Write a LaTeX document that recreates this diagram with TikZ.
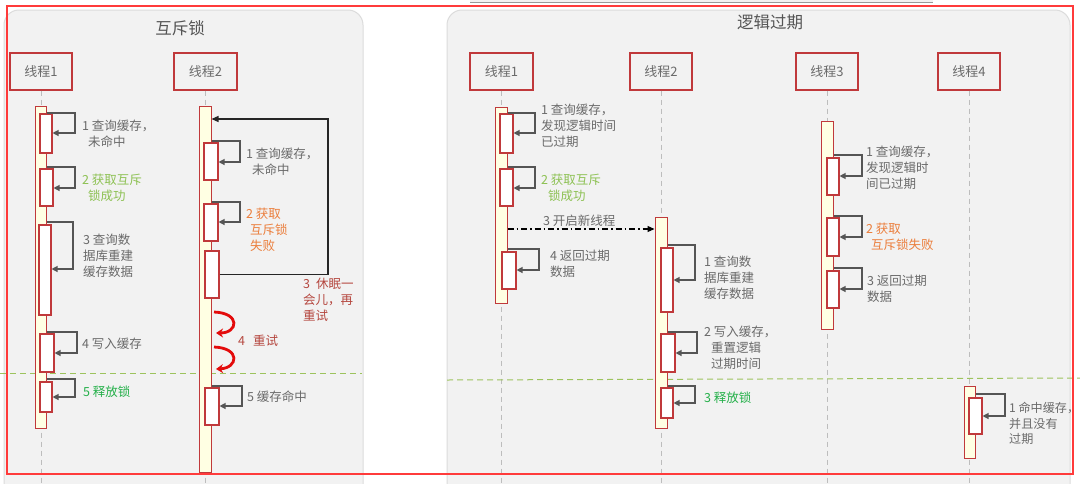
\documentclass[tikz,border=0pt]{standalone}
\usepackage{fontspec}
\setmainfont{Noto Sans CJK SC}
\usetikzlibrary{fit,arrows.meta}
\definecolor{panel}{HTML}{F2F2F2}
\definecolor{panelline}{HTML}{DCDCDC}
\definecolor{boxred}{HTML}{C0393B}
\definecolor{outerred}{HTML}{FF3B3B}
\definecolor{actfill}{HTML}{FFFFE3}
\definecolor{txtgray}{HTML}{6A6A6A}
\definecolor{titlegray}{HTML}{555555}
\definecolor{lgreen}{HTML}{8DC153}
\definecolor{dgreen}{HTML}{25B04A}
\definecolor{orng}{HTML}{EB7E3C}
\definecolor{dred}{HTML}{B5473F}
\definecolor{loopgray}{HTML}{555555}
\definecolor{dashgreen}{HTML}{9DC35E}
\definecolor{lifegray}{HTML}{BDBDBD}
\definecolor{arrowred}{HTML}{E30B0B}
\newcommand\sloop[5]{\draw[loopl] (#1.east |- 0,#3) -- (#4,#3) -- (#4,#5) -- (#2.east |- 0,#5);}
\begin{document}
\begin{tikzpicture}[x=1pt,y=-1pt,
  every node/.style={inner sep=0pt},
  thread/.style={draw=boxred, line width=1.3pt, minimum height=37pt, font=\fontsize{13}{15}\selectfont, text=txtgray},
  act/.style={draw=boxred, fill=actfill, line width=1pt, inner sep=0pt},
  ibox/.style={draw=boxred, fill=white, line width=1.1pt, inner sep=0pt},
  loopl/.style={draw=loopgray, line width=1.2pt, -{Triangle[length=6pt,width=6pt]}},
  lifeline/.style={draw=lifegray, line width=1pt, dash pattern=on 5pt off 4pt},
  sepline/.style={draw=dashgreen, line width=1pt, dash pattern=on 6pt off 4pt},
  lbl/.style={anchor=north west, align=left, font=\fontsize{12.5}{15.7}\selectfont, text=txtgray},
  ttl/.style={font=\fontsize{16.5}{18}\selectfont, text=titlegray},
  redarrow/.style={draw=arrowred, line width=2.8pt, -{Stealth[length=7pt,width=9pt]}},
  bigloop/.style={draw=black!85, line width=1.2pt, -{Triangle[length=7pt,width=6pt]}},
  spawn/.style={draw=black, line width=1.2pt, dash pattern=on 6pt off 3pt on 1.5pt off 3pt, -{Triangle[length=7pt,width=6pt]}}
]
\useasboundingbox (0,0) rectangle (1080,483);
\fill[white] (0,0) rectangle (1080,483);
% top bar
\fill[black!40] (470,0) rectangle (933,3.2);
\fill[panel] (470,0) rectangle (932.5,2);
% panels
\filldraw[fill=panel, draw=panelline, line width=1pt, rounded corners=15pt] (4,10) rectangle (363,500);
\filldraw[fill=panel, draw=panelline, line width=1pt, rounded corners=15pt] (447,10) rectangle (1070,500);

% titles
\node[ttl] (tA) at (180,28) {互斥锁};
\node[ttl] (tB) at (770,22) {逻辑过期};

% thread headers
\node[thread, minimum width=62pt] (T1) at (41,71.5) {线程1};
\node[thread, minimum width=63pt] (T2) at (205.5,71.5) {线程2};
\node[thread, minimum width=63pt] (RT1) at (501.5,71.5) {线程1};
\node[thread, minimum width=62pt] (RT2) at (661,71.5) {线程2};
\node[thread, minimum width=62pt] (RT3) at (827,71.5) {线程3};
\node[thread, minimum width=62pt] (RT4) at (969,71.5) {线程4};

% lifelines
\coordinate (e1) at (41,483);
\coordinate (e2) at (205.5,483);
\coordinate (e3) at (501.5,483);
\coordinate (e4) at (661,483);
\coordinate (e5) at (827,483);
\coordinate (e6) at (969,483);
\draw[lifeline] (T1.south) -- (e1);
\draw[lifeline] (T2.south) -- (e2);
\draw[lifeline] (RT1.south) -- (e3);
\draw[lifeline] (RT2.south) -- (e4);
\draw[lifeline] (RT3.south) -- (e5);
\draw[lifeline] (RT4.south) -- (e6);

% separators
\draw[sepline] (0,373) -- (362,373);
\draw[sepline] (447,380) -- (1080,378);

% ---------- left: thread 1
\node[act, fit={(35,106)(46,428)}] (L1a) {};
\node[ibox, fit={(40,114)(52,153)}] (L1b1) {};
\node[ibox, fit={(40,169)(53,206)}] (L1b2) {};
\node[ibox, fit={(39,225)(51,315)}] (L1b3) {};
\node[ibox, fit={(40,334)(54,372)}] (L1b4) {};
\node[ibox, fit={(40,382)(52,412)}] (L1b5) {};
\sloop{L1a}{L1b1}{113}{75}{133}
\sloop{L1a}{L1b2}{167}{75}{188}
\sloop{L1a}{L1b3}{222}{73}{269}
\sloop{L1a}{L1b4}{332}{77}{353}
\sloop{L1a}{L1b5}{379}{75}{397}
\node[lbl] (l11) at (82,120) {1 查询缓存，\\\hspace*{6pt}未命中};
\node[lbl, text=lgreen] (l12) at (82,174) {2 获取互斥\\\hspace*{6pt}锁成功};
\node[lbl] (l13) at (83,234) {3 查询数\\据库重建\\缓存数据};
\node[lbl] (l14) at (82,338) {4 写入缓存};
\node[lbl, text=dgreen] (l15) at (83,386) {5 释放锁};

% ---------- left: thread 2
\node[act, fit={(199,106)(211,472)}] (L2a) {};
\node[ibox, fit={(204,143)(218,180)}] (L2b1) {};
\node[ibox, fit={(204,204)(218,241)}] (L2b2) {};
\node[ibox, fit={(205,251)(219,298)}] (L2b3) {};
\node[ibox, fit={(205,388)(219,425)}] (L2b5) {};
\sloop{L2a}{L2b1}{141}{240}{162}
\sloop{L2a}{L2b2}{202}{240}{222}
\sloop{L2a}{L2b5}{386}{242}{406}
\coordinate (bl) at (328,119);
\draw[bigloop] (L2b3.east) -| (bl) -- (L2a.east |- bl);
\draw[redarrow] (214,312) .. controls (241,313) and (238,333) .. (216,333);
\draw[redarrow] (214,347) .. controls (241,348) and (238,368) .. (216,369);
\node[lbl] (l21) at (246,148) {1 查询缓存，\\\hspace*{6pt}未命中};
\node[lbl, text=orng] (l22) at (246,208) {2 获取\\\hspace*{4pt}互斥锁\\\hspace*{4pt}失败};
\node[lbl, text=dred] (l23) at (303,278) {3\hspace{6pt}休眠一\\会儿，再\\重试};
\node[lbl, text=dred] (l24) at (238,335) {4\hspace{8pt}重试};
\node[lbl] (l25) at (247,391) {5 缓存命中};

% ---------- right: thread 1
\node[act, fit={(495,107)(507,303)}] (R1a) {};
\node[ibox, fit={(500,114)(513,153)}] (R1b1) {};
\node[ibox, fit={(500,169)(513,206)}] (R1b2) {};
\node[ibox, fit={(502,252)(516,289)}] (R1b4) {};
\sloop{R1a}{R1b1}{113}{535}{133}
\sloop{R1a}{R1b2}{167}{535}{188}
\sloop{R1a}{R1b4}{249}{539}{270}
\node[lbl] (r11) at (541,104) {1 查询缓存，\\发现逻辑时间\\已过期};
\node[lbl, text=lgreen] (r12) at (541,174) {2 获取互斥\\\hspace*{7pt}锁成功};
\node[lbl] (r13) at (543,215) {3 开启新线程};
\node[lbl] (r14) at (550,250) {4 返回过期\\数据};

% ---------- right: thread 2
\node[act, fit={(655,217)(667,428)}] (R2a) {};
\node[ibox, fit={(661,248)(673,312)}] (R2b1) {};
\node[ibox, fit={(661,334)(675,372)}] (R2b2) {};
\node[ibox, fit={(661,388)(673,418)}] (R2b3) {};
\draw[spawn] (R1a.east |- 0,229) -- (R2a.west |- 0,229);
\sloop{R2a}{R2b1}{245}{695}{280}
\sloop{R2a}{R2b2}{332}{697}{353}
\sloop{R2a}{R2b3}{386}{695}{403}
\node[lbl] (r21) at (704,256) {1 查询数\\据库重建\\缓存数据};
\node[lbl] (r22) at (704,326) {2 写入缓存，\\\hspace*{7pt}重置逻辑\\\hspace*{7pt}过期时间};
\node[lbl, text=dgreen] (r23) at (704,392) {3 释放锁};

% ---------- right: thread 3
\node[act, fit={(821,121)(833,329)}] (R3a) {};
\node[ibox, fit={(827,158)(839,195)}] (R3b1) {};
\node[ibox, fit={(827,218)(839,256)}] (R3b2) {};
\node[ibox, fit={(827,271)(839,308)}] (R3b3) {};
\sloop{R3a}{R3b1}{155}{862}{176}
\sloop{R3a}{R3b2}{216}{862}{237}
\sloop{R3a}{R3b3}{268}{862}{289}
\node[lbl] (r31) at (866,146) {1 查询缓存，\\发现逻辑时\\间已过期};
\node[lbl, text=orng] (r32) at (866,223) {2 获取\\\hspace*{5pt}互斥锁失败};
\node[lbl] (r33) at (867,275) {3 返回过期\\数据};

% ---------- right: thread 4
\node[act, fit={(964,386)(975,458)}] (R4a) {};
\node[ibox, fit={(969,398)(982,434)}] (R4b1) {};
\sloop{R4a}{R4b1}{394}{1005}{416}
\node[lbl, font=\fontsize{12.1}{15.7}\selectfont] (r41) at (1009,402) {1 命中缓存，\\并且没有\\过期};

% outer red frame
\draw[outerred, line width=2pt] (7,6) rectangle (1073,473.5);
\end{tikzpicture}
\end{document}
